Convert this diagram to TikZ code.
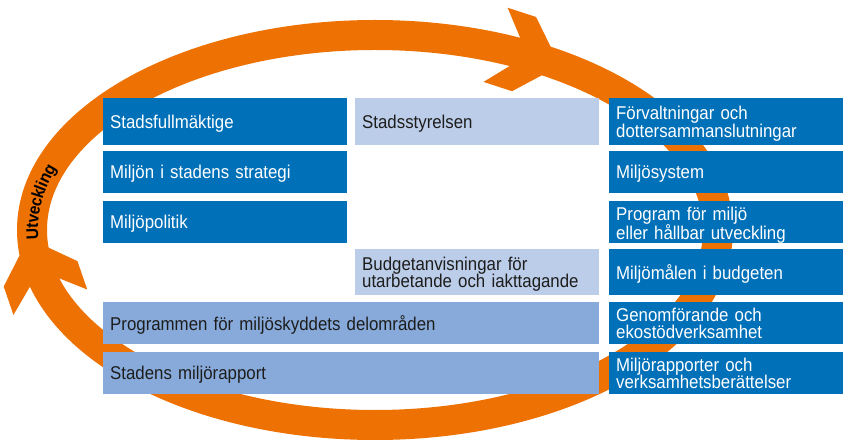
\documentclass[tikz,border=0pt]{standalone}
\usepackage{fontspec}
\setmainfont[FakeStretch=0.91]{Liberation Sans}
\usetikzlibrary{calc,decorations.text}

\definecolor{cOrange}{RGB}{238,114,3}
\definecolor{cDark}{RGB}{0,112,184}
\definecolor{cPale}{RGB}{188,205,234}
\definecolor{cMid}{RGB}{135,170,219}
\definecolor{cInk}{RGB}{29,29,27}
\newcommand{\boxfont}{\fontsize{18.5}{17.7}\selectfont}
\newcommand{\ringfont}{\fontsize{17}{17}\bfseries\selectfont}

\begin{document}
\begin{tikzpicture}[x=1pt,y=1pt]
  \tikzstyle{box} = [rectangle, anchor=north west, inner xsep=7pt, inner ysep=0pt,
    align=left, font=\boxfont]
  \tikzstyle{oneline} = [text depth=0pt]
  \tikzstyle{twoline} = [text depth=17.7pt]
  \tikzstyle{strong} = [fill=cDark, text=white]
  \tikzstyle{pale} = [fill=cPale, text=cInk]
  \tikzstyle{medium} = [fill=cMid, text=cInk]
  \tikzstyle{ring} = [draw=cOrange, line width=30pt]

  \useasboundingbox (0,0) rectangle (845,439);

  % the cycle
  \coordinate (ctr) at (375,209);
  \path[ring] (ctr) ellipse [x radius=343pt, y radius=195pt];
  \coordinate (headtop) at ($(ctr)+(63:343pt and 195pt)$);
  \coordinate (headleft) at ($(ctr)+(191:343pt and 195pt)$);
  \foreach \c/\a in {headtop/-18, headleft/109} {
    \fill[cOrange, shift={(\c)}, rotate=\a] (21,10) -- (-7,39) -- (-37,39) -- (-12,10)
      -- (-12,-10) -- (-37,-39) -- (-7,-39) -- (21,-10) -- cycle;
  }
  \path[decorate, decoration={text along path, text align=center, raise=-6pt,
      text={|\ringfont|Utveckling}}]
    ($(ctr)+(188:343pt and 195pt)$) arc [start angle=188, end angle=156,
      x radius=343pt, y radius=195pt];

  % left and middle columns
  \foreach \n/\y/\h/\t in {fullm/341/47/Stadsfullmäktige,
      strat/288/42/Miljön i stadens strategi, polit/238/42/Miljöpolitik} {
    \node[box, oneline, strong, minimum height=\h pt, text width=230pt] (\n) at (103,\y) {\t};
  }
  \node[box, oneline, pale, minimum height=47pt, text width=230pt] (styr) at (355,341)
    {Stadsstyrelsen};
  \node[box, twoline, pale, minimum height=46pt, text width=230pt] (budget) at (355,190)
    {Budgetanvisningar för\\utarbetande och iakttagande};
  \node[box, oneline, medium, minimum height=42pt, text width=482pt] (delomr) at (103,137)
    {Programmen för miljöskyddets delområden};
  \node[box, oneline, medium, minimum height=42pt, text width=482pt] (rapport) at (103,87)
    {Stadens miljörapport};

  % right column
  \foreach \n/\y/\h/\s/\t in {forv/341/47/twoline/{Förvaltningar och\\dottersammanslutningar},
      system/288/42/oneline/Miljösystem,
      program/238/42/twoline/{Program för miljö\\eller hållbar utveckling},
      mal/190/46/oneline/Miljömålen i budgeten,
      genomf/137/42/twoline/{Genomförande och\\ekostödverksamhet},
      berat/87/42/twoline/{Miljörapporter och\\verksamhetsberättelser}} {
    \node[box, \s, strong, minimum height=\h pt, text width=220pt] (\n) at (609,\y) {\t};
  }
\end{tikzpicture}
\end{document}
